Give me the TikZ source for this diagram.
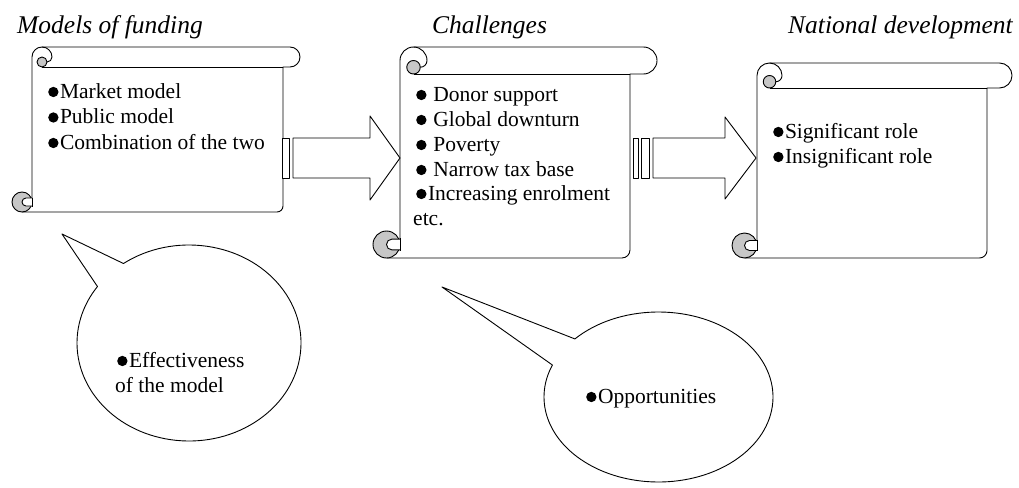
\documentclass[tikz,border=0pt]{standalone}
\usepackage{fontspec}
\setmainfont{Liberation Serif}
\usetikzlibrary{calc}
\newcommand\bul{\tikz[baseline={(0pt,-0.28em)}]\fill (0pt,0pt) circle (0.24em);\hspace{1.5pt}}
\newcommand\scrollshape[6]{%
 \pgfmathsetmacro\sa{#1}\pgfmathsetmacro\sb{#2}\pgfmathsetmacro\st{#3}%
 \pgfmathsetmacro\sB{#4}\pgfmathsetmacro\se{#5}\pgfmathsetmacro\sr{#6}%
 \pgfmathsetmacro\src{0.6*\sr}\pgfmathsetmacro\shr{0.5*\sr}%
 % white paper
 \fill[white] (\sa,\sB-\sr) -- (\sa,\st+\sr) arc[start angle=180,end angle=270,radius=\sr] -- (\se-\sr,\st) arc[start angle=270,end angle=450,radius=\sr] -- (\sb,\st+2*\sr) -- (\sb,\sB-\src) arc[start angle=0,end angle=90,radius=\src] -- (\sa-\sr,\sB) -- (\sa-\sr,\sB-\sr) -- cycle;
 % outline of paper and top roll
 \draw[outline] (\sa,\sB-\sr) -- (\sa,\st+\sr) arc[start angle=180,end angle=270,radius=\sr] -- (\se-\sr,\st) arc[start angle=270,end angle=450,radius=\sr] -- (\sb,\st+2*\sr) -- (\sb,\sB-\src) arc[start angle=0,end angle=90,radius=\src] -- (\sa-\sr,\sB);
 \draw[outline] (\sb,\st+2*\sr) -- (\sa+\sr,\st+2*\sr);
 % top-left curl
 \draw[outline] (\sa+\sr,\st) arc[start angle=270,end angle=360,radius=\sr] arc[start angle=0,end angle=90,radius=\shr];
 \filldraw[outline,curl] (\sa+\sr,\st+1.5*\sr) circle[radius=\shr];
 % bottom-left curl
 \filldraw[outline,curl] (\sa-\sr,\sB-\sr) circle[radius=\sr];
 \filldraw[outline,fill=white] (\sa,\sB-1.4*\sr) -- (\sa-0.6*\sr,\sB-1.4*\sr) arc[start angle=270,end angle=90,radius=0.4*\sr] -- (\sa,\sB-0.6*\sr);
 \draw[outline] (\sa,\sB-1.45*\sr) -- (\sa,\sB-0.55*\sr);
}
\tikzset{
 outline/.style={draw=black, line width=0.9pt, line join=round},
 curl/.style={fill=black!22},
 body/.style={font=\fontsize{21.5}{25}\selectfont, anchor=base west, inner sep=0pt},
 title/.style={font=\fontsize{25.5}{30}\selectfont\itshape, anchor=base west, inner sep=0pt},
}
\begin{document}
\begin{tikzpicture}[x=1pt,y=-1pt]
\useasboundingbox (0,0) rectangle (1019,487);
% titles
\node[title] (t1) at (17,34) {Models of funding};
\node[title] (t2) at (432,34) {Challenges};
\node[title] (t3) at (788,34) {National development};
% scrolls
\scrollshape{32}{283}{47}{212}{300}{10}
\scrollshape{400}{630}{47}{258}{657}{13.5}
\scrollshape{757}{987}{63}{258}{1012}{12.5}
% arrows
\draw[outline,fill=white] (282,138) rectangle (289,178);
\draw[outline,fill=white] (293,138) -- (370,138) -- (370,116) -- (400,158) -- (370,200) -- (370,178) -- (293,178) -- cycle;
\draw[outline,fill=white] (633,138) rectangle (638,178);
\draw[outline,fill=white] (641,138) rectangle (649,178);
\draw[outline,fill=white] (653,138) -- (725,138) -- (725,117) -- (756,158) -- (725,199) -- (725,178) -- (653,178) -- cycle;
% scroll texts
\node[body] (a1) at (48,98) {\bul Market model};
\node[body] (a2) at (48,123.5) {\bul Public model};
\node[body] (a3) at (48,149) {\bul Combination of the two};
\node[body] (b1) at (416,101) {\bul\ Donor support};
\node[body] (b2) at (416,126) {\bul\ Global downturn};
\node[body] (b3) at (416,151) {\bul\ Poverty};
\node[body] (b4) at (416,176) {\bul\ Narrow tax base};
\node[body] (b5) at (416,200) {\bul Increasing enrolment};
\node[body] (b6) at (413,225) {etc.};
\node[body] (c1) at (773,138) {\bul Significant role};
\node[body] (c2) at (773,163) {\bul Insignificant role};
% callouts
\coordinate (e1) at (189,343);
\coordinate (tip1) at (62,234);
\draw[outline,fill=white] (tip1) -- ($(e1)+(-125.8:112 and 98)$) arc[start angle=-125.8,end angle=215.2,x radius=112,y radius=98] -- cycle;
\coordinate (e2) at (658.5,397);
\coordinate (tip2) at (442,287);
\draw[outline,fill=white] (tip2) -- ($(e2)+(-136.9:114.5 and 85)$) arc[start angle=-136.9,end angle=202.1,x radius=114.5,y radius=85] -- cycle;
\node[body] (d1) at (117,367) {\bul Effectiveness};
\node[body] (d2) at (115,392) {of the model};
\node[body] (d3) at (586,403) {\bul Opportunities};
\end{tikzpicture}
\end{document}
